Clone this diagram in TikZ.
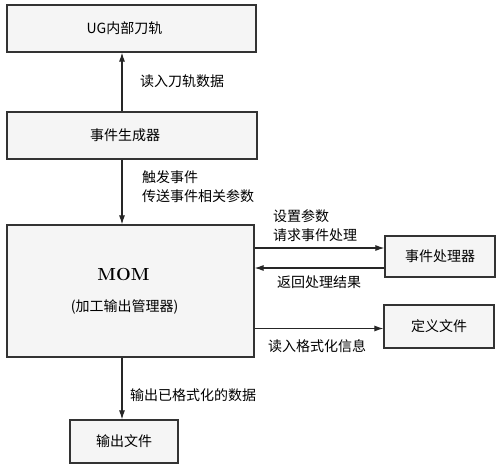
\documentclass[tikz,border=0pt]{standalone}
\usepackage{fontspec}
\newfontfamily\cjk{Noto Sans CJK SC}
\usetikzlibrary{arrows.meta, positioning}

\begin{document}
\begin{tikzpicture}[
    x=1pt, y=-1pt,
    font=\cjk\fontsize{14}{19}\selectfont,
    box/.style={rectangle, draw=black!80, fill=black!4, line width=1.2pt, align=center, inner sep=0pt},
    note/.style={anchor=west, align=left, inner sep=0pt},
    arrow/.style={-{Latex[length=9pt, width=6pt]}, line width=1.1pt, draw=black!85}
]
\useasboundingbox[fill=white] (0,0) rectangle (500,467);

% Boxes
\node[box, minimum width=249pt, minimum height=47pt] (ug) at (131.5,28.5) {UG内部刀轨\hspace*{14pt}};
\node[box, minimum width=250pt, minimum height=47pt] (gen) at (132,135.5) {事件生成器\hspace*{14pt}};
\node[box, minimum width=247pt, minimum height=132pt] (mom) at (130.5,291) {{\rmfamily\bfseries\fontsize{17.5}{22}\selectfont MOM}\hspace*{14pt}\\[12pt](加工输出管理器)\hspace*{12pt}};
\node[box, minimum width=110pt, minimum height=41pt] (handler) at (440,256.5) {事件处理器};
\node[box, minimum width=110pt, minimum height=43pt] (deffile) at (439,326.5) {定义文件};
\node[box, minimum width=108pt, minimum height=43pt] (outfile) at (124,441.5) {输出文件};

% Axis of the vertical arrows
\coordinate (axis) at (122,0);

% Arrows
\draw[arrow] (gen.north -| axis) -- (ug.south -| axis);
\draw[arrow] (gen.south -| axis) -- (mom.north -| axis);
\draw[arrow] ([yshift=8.5pt]handler.west -| mom.east) -- ([yshift=8.5pt]handler.west);
\draw[arrow] ([yshift=-11.5pt]handler.west) -- ([yshift=-11.5pt]handler.west -| mom.east);
\draw[arrow] ([yshift=-2pt]deffile.west -| mom.east) -- ([yshift=-2pt]deffile.west);
\draw[arrow] (mom.south -| axis) -- (outfile.north -| axis);

% Labels
\node[note] (readpath) at (140,81) {读入刀轨数据};
\node[note] (trigger) at (142,187) {触发事件\\传送事件相关参数};
\node[note] (setparam) at (273,226) {设置参数\\请求事件处理};
\node[note] (result) at (277,282) {返回处理结果};
\node[note] (readfmt) at (268,346) {读入格式化信息};
\node[note] (writeout) at (130,395) {输出已格式化的数据};

\end{tikzpicture}
\end{document}
